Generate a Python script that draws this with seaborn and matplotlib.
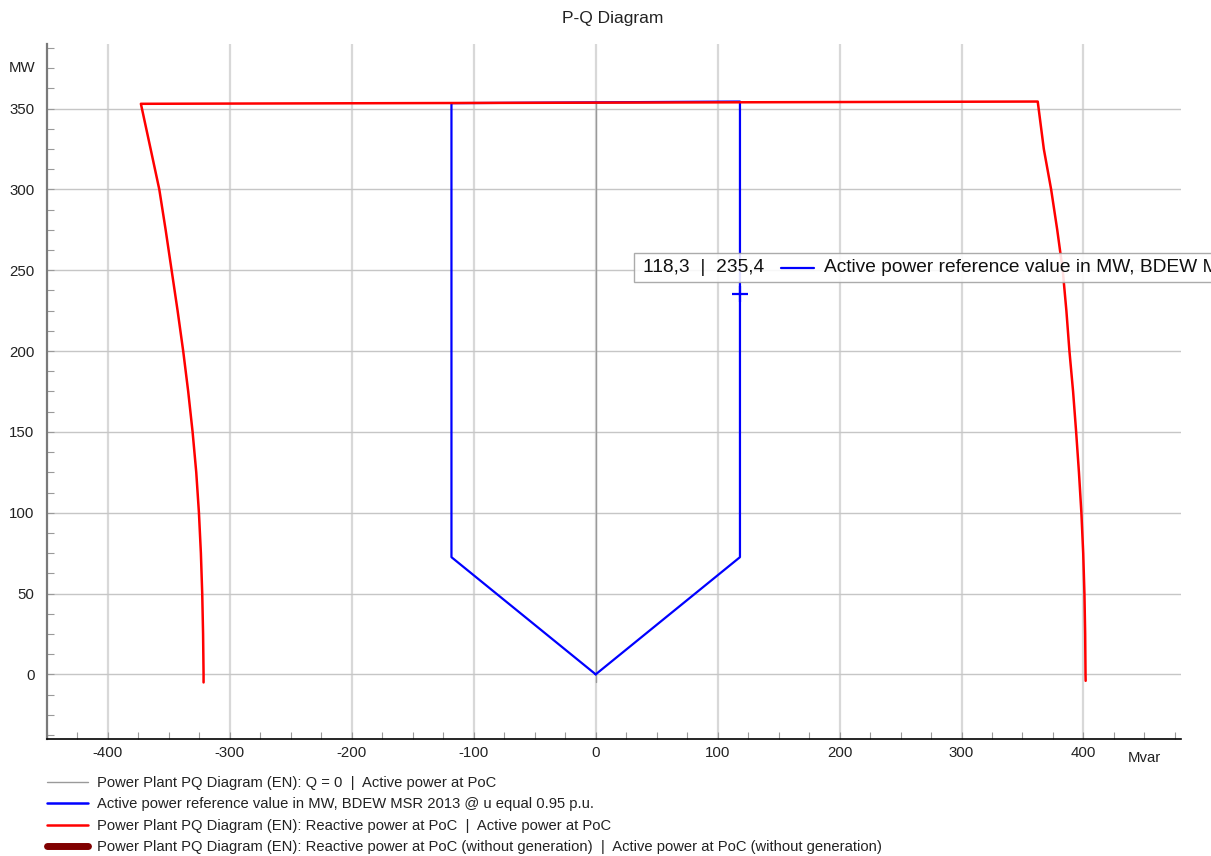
import matplotlib
matplotlib.use("Agg")
import matplotlib.pyplot as plt
from matplotlib.lines import Line2D
from matplotlib.patches import Rectangle
from matplotlib.ticker import MultipleLocator
import seaborn as sns

# ---- data -------------------------------------------------------------
# Q = 0 reference line (Mvar, MW)
zero_q = [0.0, 0.0]
zero_p = [-5.0, 353.8]

# BDEW MSR 2013 reference envelope @ u = 0.95 p.u.
bdew_q = [0.0, 118.3, 118.3, -118.3, -118.3, 0.0]
bdew_p = [0.0, 72.5, 354.4, 353.4, 72.5, 0.0]

# Plant capability: reactive power at PoC vs active power at PoC
plant_q = [-321.6, -321.6, -322.0, -322.7, -323.8, -325.4, -327.6, -330.6, -334.2,
           -338.3, -342.9, -347.8, -352.7, -357.9, -365.0, -373.0,
           362.5, 367.5, 373.5, 378.5, 383.0, 386.0, 388.5, 391.5, 394.0,
           396.3, 398.3, 399.8, 400.8, 401.4, 401.7, 401.8]
plant_p = [-5.0, 0.0, 25.0, 50.0, 75.0, 100.0, 125.0, 150.0, 175.0,
           200.0, 225.0, 250.0, 275.0, 300.0, 325.0, 353.0,
           354.4, 325.0, 300.0, 275.0, 250.0, 225.0, 200.0, 175.0, 150.0,
           125.0, 100.0, 75.0, 50.0, 25.0, 0.0, -4.0]

# Same curve without generation (no points in this view)
nogen_q = []
nogen_p = []

labels = [
    "Power Plant PQ Diagram (EN): Q = 0  |  Active power at PoC",
    "Active power reference value in MW, BDEW MSR 2013 @ u equal 0.95 p.u.",
    "Power Plant PQ Diagram (EN): Reactive power at PoC  |  Active power at PoC",
    "Power Plant PQ Diagram (EN): Reactive power at PoC (without generation)  |  "
    "Active power at PoC (without generation)",
]

x_ticks = [-400, -300, -200, -100, 0, 100, 200, 300, 400]
y_ticks = [0, 50, 100, 150, 200, 250, 300, 350]

hover_q = 118.3
hover_p = 235.4

# ---- style ------------------------------------------------------------
sns.set_theme(style="white")
plt.rcParams["font.family"] = ["Liberation Sans", "DejaVu Sans"]
plt.rcParams["font.size"] = 10.5

W, H = 1211, 856
fig = plt.figure(figsize=(W / 100, H / 100), dpi=100)
ax = fig.add_axes([47 / W, 1 - 739 / H, (1181 - 47) / W, (739 - 44) / H])

ax.set_xlim(-450, 480)
ax.set_ylim(-40, 390)

# grid
for xv in x_ticks:
    ax.axvline(xv, color="#d8d8d8", lw=1.6, zorder=0)
for yv in y_ticks:
    ax.axhline(yv, color="#c6c6c6", lw=1.0, zorder=0)

# series
sns.lineplot(x=zero_q, y=zero_p, sort=False, estimator=None, color="#9a9a9a",
             lw=1.0, ax=ax, label=labels[0], legend=False, zorder=2)
sns.lineplot(x=bdew_q, y=bdew_p, sort=False, estimator=None, color="#0000ff",
             lw=1.6, ax=ax, label=labels[1], legend=False, zorder=3)
sns.lineplot(x=plant_q, y=plant_p, sort=False, estimator=None, color="#ff0000",
             lw=1.8, ax=ax, label=labels[2], legend=False, zorder=4)
ax.plot(nogen_q, nogen_p, color="#800000", lw=5, solid_capstyle="round",
        label=labels[3], zorder=4)

# hover crosshair on the blue curve
ax.plot([hover_q], [hover_p], marker="+", ms=11, mew=1.6, color="#0000ff",
        linestyle="none", zorder=6)

# axes styling
for s in ("top", "right"):
    ax.spines[s].set_visible(False)
ax.spines["left"].set_color("#7a7a7a")
ax.spines["left"].set_linewidth(1.6)
ax.spines["bottom"].set_color("#000000")
ax.spines["bottom"].set_linewidth(1.2)

ax.set_xticks(x_ticks)
ax.set_xticklabels([str(v) for v in x_ticks])
ax.set_yticks(y_ticks)
ax.set_yticklabels([str(v) for v in y_ticks])
ax.xaxis.set_minor_locator(MultipleLocator(25))
ax.yaxis.set_minor_locator(MultipleLocator(12.5))
ax.tick_params(axis="both", which="both", direction="in", length=5, width=0.8,
               colors="#9a9a9a", labelcolor="#222222", labelsize=10.8)
ax.tick_params(axis="x", which="both", bottom=True, pad=5)
ax.tick_params(axis="y", which="both", left=True, pad=9)

# unit labels in the tick-label rows
ax.text(450, -0.017, "Mvar", transform=ax.get_xaxis_transform(), ha="center",
        va="top", fontsize=10.8, color="#222222")
ax.text(-0.01, 375, "MW", transform=ax.get_yaxis_transform(), ha="right",
        va="center", fontsize=10.8, color="#222222")

fig.text(613 / W, 1 - 18 / H, "P-Q Diagram", ha="center", va="center",
         fontsize=12.5, color="#222222")

# legend below the plot
handles = [
    Line2D([], [], color="#9a9a9a", lw=1.0),
    Line2D([], [], color="#0000ff", lw=1.8),
    Line2D([], [], color="#ff0000", lw=1.8),
    Line2D([], [], color="#800000", lw=5, solid_capstyle="round"),
]
fig.legend(handles, labels, loc="upper left",
           bbox_to_anchor=(47 / W, 1 - 776 / H), frameon=False, fontsize=10.6,
           handlelength=2.8, handletextpad=0.62, labelspacing=0.5, borderpad=0,
           borderaxespad=0, labelcolor="#222222")

# tooltip for the hovered point (box runs past the right edge of the canvas)
tip_txt = f"{hover_q:.1f}  |  {hover_p:.1f}".replace(".", ",")
fig.patches.append(Rectangle((634 / W, 1 - 282 / H), (W + 20 - 634) / W, 29 / H,
                             transform=fig.transFigure, facecolor="white",
                             edgecolor="#a0a0a0", lw=1.0, alpha=0.88, zorder=10))
t1 = fig.text(643 / W, 1 - 267.5 / H, tip_txt, ha="left", va="center",
              fontsize=13.8, color="#111111", zorder=11)
fig.lines.append(Line2D([781 / W, 814 / W], [1 - 267.5 / H, 1 - 267.5 / H],
                        transform=fig.transFigure, color="#0000ff", lw=1.6,
                        zorder=11))
t2 = fig.text(824 / W, 1 - 267.5 / H, labels[1], ha="left", va="center",
              fontsize=13.8, color="#111111", zorder=11)
for t in (t1, t2):
    t.set_clip_on(True)
    t.set_clip_box(fig.bbox)

fig.savefig("out.png", dpi=100)
